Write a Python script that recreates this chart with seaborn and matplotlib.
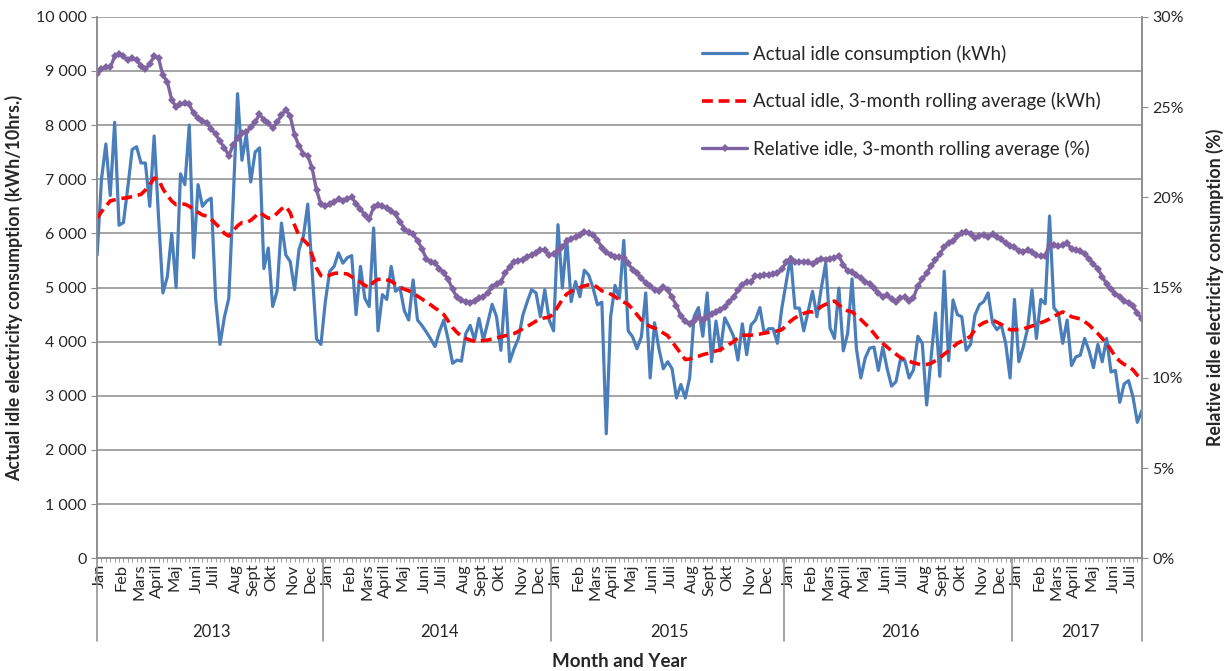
import numpy as np
import pandas as pd
import matplotlib
matplotlib.use('Agg')
import matplotlib.pyplot as plt
import matplotlib.transforms as mtransforms
from matplotlib.ticker import FuncFormatter, MultipleLocator
import seaborn as sns

# --- Datos (lectura aproximada, una fila por semana) ---

years = ['2013', '2014', '2015', '2016', '2017']
weeks_per_year = [52, 52, 53, 52, 30]
months_per_year = [12, 12, 12, 12, 7]
month_names = ['Jan', 'Feb', 'Mars', 'April', 'Maj', 'Juni', 'Juli',
               'Aug', 'Sept', 'Okt', 'Nov', 'Dec']
month_start_week = [0, 5, 9, 13, 17, 22, 26, 31, 35, 39, 44, 48]

actual_kwh = [
    5600, 7000, 7650, 6700, 8050, 6150, 6200, 6850, 7550, 7600,
    7300, 7300, 6500, 7800, 6300, 4900, 5200, 6000, 5000, 7100,
    6900, 8000, 5550, 6900, 6500, 6600, 6650, 4800, 3950, 4450,
    4800, 6600, 8580, 7350, 7830, 6950, 7500, 7580, 5350, 5730,
    4650, 4930, 6190, 5600, 5480, 4960, 5700, 5950, 6540, 5300,
    4050, 3950, 4740, 5300, 5390, 5640, 5450, 5550, 5590, 4500,
    5390, 4800, 4650, 6100, 4200, 4870, 4780, 5390, 4930, 5000,
    4570, 4400, 5140, 4400, 4300, 4180, 4050, 3910, 4190, 4400,
    4030, 3600, 3660, 3640, 4150, 4300, 4030, 4430, 4030, 4350,
    4690, 4460, 3840, 4970, 3630, 3870, 4060, 4490, 4740, 4960,
    4900, 4460, 4960, 4400, 4200, 6160, 4990, 5900, 4740, 5110,
    4830, 5320, 5230, 4990, 4680, 4730, 2300, 4460, 5040, 4800,
    5870, 4200, 4090, 3870, 4090, 4900, 3330, 4350, 3870, 3500,
    3630, 3500, 2960, 3210, 2960, 3330, 4460, 4630, 4100, 4900,
    3630, 4380, 3830, 4440, 4280, 4100, 3660, 4330, 3760, 4310,
    4400, 4630, 4150, 4240, 4240, 3970, 4620, 5100, 5570, 4620,
    4620, 4200, 4560, 4930, 4460, 4990, 5450, 4250, 4060, 4990,
    3830, 4150, 5160, 3870, 3330, 3700, 3880, 3900, 3470, 3900,
    3500, 3180, 3260, 3660, 3660, 3330, 3480, 4100, 3970, 2830,
    3700, 4530, 3360, 5300, 3650, 4770, 4500, 4460, 3840, 3950,
    4490, 4680, 4740, 4900, 4350, 4220, 4310, 3970, 3330, 4780,
    3630, 3900, 4240, 4960, 4060, 4780, 4700, 6320, 4620, 4530,
    3970, 4400, 3560, 3720, 3750, 4060, 3830, 3520, 3950, 3630,
    4060, 3440, 3470, 2880, 3220, 3280, 2980, 2510, 2720,
]

rolling_kwh = [
    6280, 6400, 6500, 6600, 6620, 6640, 6650, 6660, 6680, 6700,
    6720, 6800, 6900, 7020, 7000, 6820, 6700, 6600, 6530, 6540,
    6540, 6500, 6440, 6390, 6340, 6320, 6260, 6180, 6100, 6000,
    5950, 6050, 6140, 6200, 6200, 6240, 6310, 6390, 6330, 6280,
    6300, 6370, 6450, 6500, 6380, 6150, 5960, 5880, 5800, 5600,
    5360, 5220, 5200, 5230, 5260, 5270, 5260, 5250, 5200, 5140,
    5100, 5040, 5000, 5100, 5150, 5160, 5140, 5120, 5060, 5010,
    4970, 4940, 4900, 4840, 4790, 4730, 4680, 4620, 4570, 4500,
    4380, 4260, 4170, 4100, 4060, 4030, 4010, 4010, 4020, 4030,
    4050, 4070, 4090, 4110, 4130, 4150, 4190, 4240, 4280, 4330,
    4380, 4420, 4440, 4450, 4520, 4650, 4780, 4880, 4930, 4960,
    5000, 5030, 5050, 5060, 5000, 4940, 4910, 4880, 4830, 4770,
    4730, 4690, 4600, 4500, 4400, 4330, 4280, 4250, 4220, 4160,
    4110, 4000, 3890, 3780, 3670, 3680, 3710, 3730, 3760, 3780,
    3800, 3830, 3850, 3900, 3950, 4000, 4070, 4120, 4120, 4120,
    4130, 4140, 4160, 4170, 4180, 4200, 4220, 4300, 4380, 4440,
    4480, 4520, 4550, 4550, 4580, 4650, 4690, 4720, 4750, 4680,
    4600, 4570, 4550, 4480, 4410, 4330, 4250, 4150, 4050, 3970,
    3900, 3830, 3770, 3710, 3670, 3640, 3610, 3590, 3570, 3580,
    3600, 3650, 3700, 3770, 3830, 3900, 3970, 4010, 4050, 4100,
    4220, 4300, 4350, 4380, 4400, 4360, 4320, 4270, 4220, 4220,
    4230, 4240, 4260, 4290, 4310, 4350, 4380, 4420, 4470, 4510,
    4550, 4510, 4460, 4440, 4420, 4370, 4310, 4230, 4150, 4060,
    3970, 3850, 3720, 3640, 3580, 3540, 3480, 3380, 3320,
]

relative_pct = [
    26.85, 27.1, 27.2, 27.2, 27.8, 27.95, 27.8, 27.6, 27.7, 27.6,
    27.3, 27.1, 27.4, 27.8, 27.7, 26.75, 26.4, 25.4, 25.0, 25.15,
    25.2, 25.15, 24.65, 24.4, 24.25, 24.1, 23.8, 23.5, 23.1, 22.75,
    22.3, 22.9, 23.3, 23.55, 23.6, 23.9, 24.15, 24.6, 24.3, 24.1,
    23.85, 24.15, 24.55, 24.85, 24.5, 23.45, 22.85, 22.4, 22.3, 21.6,
    20.4, 19.6, 19.5, 19.6, 19.75, 19.9, 19.8, 19.9, 20.0, 19.65,
    19.35, 19.0, 18.8, 19.45, 19.55, 19.5, 19.4, 19.25, 19.05, 18.65,
    18.25, 18.05, 17.95, 17.6, 17.15, 16.6, 16.4, 16.35, 16.05, 15.8,
    15.45, 14.9, 14.45, 14.3, 14.22, 14.15, 14.28, 14.42, 14.5, 14.7,
    15.05, 15.2, 15.33, 15.8, 16.15, 16.44, 16.48, 16.54, 16.7, 16.82,
    16.9, 17.1, 17.06, 16.8, 16.85, 17.05, 17.25, 17.55, 17.7, 17.82,
    17.9, 18.05, 18.03, 17.92, 17.65, 17.2, 16.95, 16.8, 16.7, 16.7,
    16.63, 16.35, 15.98, 15.8, 15.52, 15.26, 15.06, 14.88, 14.78, 15.05,
    14.87, 14.45, 14.0, 13.4, 13.15, 12.96, 13.15, 13.39, 13.18, 13.38,
    13.52, 13.67, 13.76, 13.94, 14.2, 14.48, 14.85, 15.15, 15.3, 15.33,
    15.65, 15.62, 15.68, 15.7, 15.74, 15.8, 16.0, 16.42, 16.6, 16.44,
    16.41, 16.44, 16.41, 16.32, 16.46, 16.6, 16.55, 16.56, 16.63, 16.75,
    16.26, 15.93, 15.85, 15.67, 15.52, 15.33, 15.2, 14.96, 14.69, 14.5,
    14.56, 14.37, 14.22, 14.4, 14.5, 14.26, 14.44, 15.1, 15.45, 15.8,
    16.2, 16.5, 16.85, 17.25, 17.45, 17.55, 17.83, 18.0, 18.1, 17.95,
    17.75, 17.85, 17.92, 17.8, 17.95, 17.78, 17.68, 17.45, 17.3, 17.22,
    17.05, 16.97, 17.08, 16.97, 16.8, 16.72, 16.76, 17.37, 17.33, 17.28,
    17.33, 17.45, 17.14, 17.06, 17.0, 16.85, 16.6, 16.3, 16.05, 15.6,
    15.2, 14.9, 14.65, 14.5, 14.28, 14.15, 13.95, 13.6, 13.25,
]

n = len(actual_kwh)
df = pd.DataFrame({
    'week': np.arange(n),
    'actual': actual_kwh,
    'rolling': rolling_kwh,
    'relative': relative_pct,
})

# --- Estilo ---
sns.set_style('white')
plt.rcParams['font.family'] = ['Lato', 'DejaVu Sans']

grid_color = '#8c8c8c'
blue = '#4a7ebb'
red = '#ff0000'
purple = '#8064a2'

fig = plt.figure(figsize=(12.29, 6.71), dpi=100)
ax = fig.add_axes([0.079, 0.168, 0.850, 0.807])
ax2 = ax.twinx()

sns.lineplot(data=df, x='week', y='actual', ax=ax, color=blue, linewidth=2.3,
             label='Actual idle consumption (kWh)', legend=False)
sns.lineplot(data=df, x='week', y='rolling', ax=ax, color=red, linewidth=2.6,
             label='Actual idle, 3-month rolling average (kWh)', legend=False)
ax.lines[1].set_dashes((3, 1.6))
sns.lineplot(data=df, x='week', y='relative', ax=ax2, color=purple, linewidth=2.4,
             marker='D', markersize=3.6, markeredgewidth=0,
             label='Relative idle, 3-month rolling average (%)', legend=False)

# Ejes Y
ax.set_ylim(0, 10000)
ax.yaxis.set_major_locator(MultipleLocator(1000))
ax.yaxis.set_major_formatter(FuncFormatter(lambda v, p: f"{int(v):,}".replace(',', ' ')))
ax.grid(axis='y', color=grid_color, linewidth=1.1)
ax.set_axisbelow(True)
ax2.set_ylim(0, 30)
ax2.yaxis.set_major_locator(MultipleLocator(5))
ax2.yaxis.set_major_formatter(FuncFormatter(lambda v, p: f"{int(v)}%"))

for a in (ax, ax2):
    a.spines['top'].set_visible(False)
    for side in ('left', 'right', 'bottom'):
        a.spines[side].set_color(grid_color)
        a.spines[side].set_linewidth(1.1)
ax.tick_params(axis='y', labelsize=11.5, length=4, color=grid_color, direction='out', left=True)
ax2.tick_params(axis='y', labelsize=11.5, length=4, color=grid_color, direction='out', right=True)

ax.set_ylabel('Actual idle electricity consumption (kWh/10hrs.)', fontsize=12.8,
              fontweight='bold', labelpad=9)
ax2.set_ylabel('Relative idle electricity consumption (%)', fontsize=12.8,
               fontweight='bold', labelpad=16)

# Eje X: meses y años
ax.set_xlim(0, n - 1)
year_start = np.concatenate([[0], np.cumsum(weeks_per_year)[:-1]])
tick_pos, tick_lab = [], []
for ys, nm in zip(year_start, months_per_year):
    for m in range(nm):
        tick_pos.append(ys + month_start_week[m] + 0.6)
        tick_lab.append(month_names[m])
ax.set_xticks(tick_pos)
ax.set_xticklabels(tick_lab, rotation=90, fontsize=11.8)
ax.set_xticks(np.arange(n), minor=True)
ax.tick_params(axis='x', which='major', length=0, pad=4)
ax.tick_params(axis='x', which='minor', length=3, color=grid_color, width=0.6, bottom=True)
ax.set_xlabel('')

trans = mtransforms.blended_transform_factory(ax.transData, ax.transAxes)
bounds = list(year_start - 0.5) + [n - 1]
bounds[0] = 0
for b in bounds:
    ax.plot([b, b], [0, -0.152], transform=trans, color=grid_color, linewidth=1.1, clip_on=False)
for ys, w, yr in zip(year_start, weeks_per_year, years):
    ax.text(ys + w / 2, -0.137, yr, transform=trans, ha='center', va='center', fontsize=12)
ax.text(0.5, -0.19, 'Month and Year', transform=ax.transAxes, ha='center', va='center',
        fontsize=13.5, fontweight='bold')

# Leyenda
handles = ax.get_lines()[:2] + ax2.get_lines()[:1]
labels = [h.get_label() for h in handles]
ax2.legend(handles, labels, loc='upper left', bbox_to_anchor=(0.563, 0.98), frameon=False,
           fontsize=13.5, handlelength=2.4, labelspacing=1.58, handletextpad=0.3)

fig.savefig('out.png', dpi=100)
